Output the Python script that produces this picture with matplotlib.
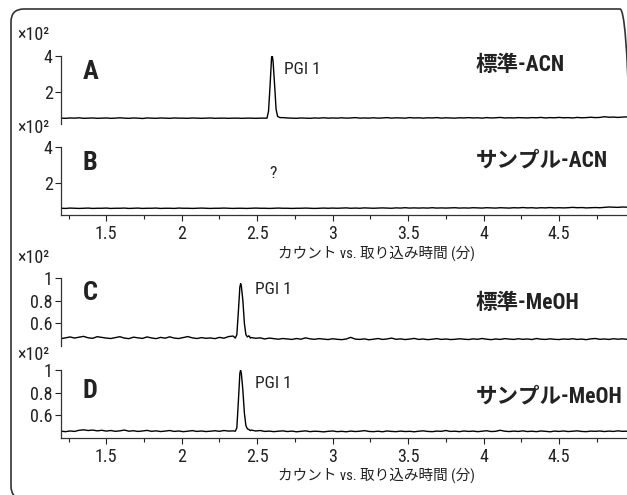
import numpy as np
import matplotlib
matplotlib.use("Agg")
import matplotlib.pyplot as plt
from matplotlib.patches import FancyBboxPatch
from matplotlib.ticker import MultipleLocator
from matplotlib import font_manager as fm

# pick a condensed latin face if one is installed
_names = sorted({f.name for f in fm.fontManager.ttflist})
_cond = [n for n in _names if ('Narrow' in n or 'Condensed' in n)]
_pref = ['Liberation Sans Narrow', 'Roboto Condensed', 'Open Sans Condensed',
         'DejaVu Sans Condensed', 'Noto Sans Condensed']
LATIN = next((p for p in _pref if p in _cond), _cond[0] if _cond else 'DejaVu Sans')
LAT = [LATIN, 'Noto Sans CJK JP', 'DejaVu Sans']
plt.rcParams['font.family'] = LAT
STRETCH = 'normal' if _cond else 'condensed'

# ---------------- data (intensity in units of x10^2 counts) ----------------
t_start, t_end = 1.20, 4.95
xticks = [1.5, 2, 2.5, 3, 3.5, 4, 4.5]
xtick_labels = ['1.5', '2', '2.5', '3', '3.5', '4', '4.5']

base_A = [0.50,0.49,0.51,0.50,0.52,0.49,0.50,0.51,0.49,0.50,
          0.51,0.49,0.50,0.52,0.50,0.49,0.51,0.50,0.48,0.51,
          0.50,0.49,0.51,0.50,0.49,0.51,0.50,0.50,0.49,0.51,
          0.50,0.49,0.50,0.51,0.49,0.50,0.50,0.49,0.50,0.50,
          0.49,0.50,0.50,0.49,0.50,0.50,0.50,0.50,0.52,0.53,
          0.51,0.50,0.49,0.51,0.50,0.49,0.51,0.50,0.52,0.50,
          0.51,0.50,0.52,0.50,0.51,0.53,0.50,0.51,0.50,0.52,
          0.50,0.51,0.53,0.50,0.52,0.51,0.50,0.53,0.51,0.52,
          0.50,0.52,0.51,0.53,0.50,0.52,0.51,0.50,0.52,0.51,
          0.53,0.51,0.52,0.50,0.53,0.51,0.52,0.54,0.51,0.52,
          0.51,0.53,0.52,0.51,0.53,0.52,0.54,0.51,0.53,0.52,
          0.54,0.52,0.53,0.51,0.54,0.52,0.53,0.55,0.53,0.54,
          0.58,0.55,0.56,0.54,0.56,0.57]
peak_A_t = [2.565, 2.575, 2.585, 2.595, 2.600, 2.605, 2.615, 2.625, 2.635, 2.650]
peak_A_y = [0.50, 0.90, 2.30, 3.90, 4.00, 3.70, 2.40, 1.00, 0.60, 0.53]

base_B = [0.55,0.54,0.56,0.55,0.54,0.55,0.56,0.54,0.55,0.55,
          0.56,0.54,0.55,0.55,0.56,0.54,0.55,0.56,0.54,0.55,
          0.55,0.56,0.54,0.55,0.55,0.54,0.56,0.55,0.55,0.54,
          0.55,0.56,0.55,0.54,0.55,0.55,0.56,0.55,0.54,0.55,
          0.55,0.54,0.55,0.56,0.55,0.55,0.54,0.55,0.56,0.55,
          0.55,0.54,0.55,0.55,0.56,0.55,0.54,0.55,0.56,0.55,
          0.56,0.55,0.56,0.57,0.55,0.56,0.55,0.57,0.56,0.55,
          0.56,0.57,0.56,0.55,0.57,0.56,0.58,0.56,0.57,0.56,
          0.57,0.56,0.58,0.56,0.57,0.56,0.57,0.58,0.56,0.57,
          0.56,0.58,0.57,0.56,0.58,0.57,0.56,0.58,0.57,0.56,
          0.58,0.57,0.59,0.57,0.58,0.56,0.58,0.57,0.59,0.57,
          0.58,0.57,0.58,0.60,0.58,0.59,0.57,0.58,0.59,0.58,
          0.60,0.62,0.61,0.60,0.62,0.61]

base_C = [0.465,0.472,0.480,0.470,0.478,0.485,0.472,0.468,0.482,0.476,
          0.470,0.466,0.474,0.482,0.470,0.465,0.478,0.472,0.467,0.480,
          0.471,0.465,0.476,0.469,0.481,0.470,0.466,0.475,0.483,0.472,
          0.466,0.474,0.468,0.471,0.465,0.476,0.469,0.483,0.488,0.470,
          0.900,0.520,0.475,0.468,0.472,0.462,0.470,0.465,0.460,0.466,
          0.462,0.458,0.466,0.460,0.472,0.463,0.459,0.465,0.461,0.457,
          0.464,0.459,0.456,0.462,0.476,0.461,0.458,0.463,0.455,0.460,
          0.466,0.458,0.462,0.470,0.459,0.463,0.457,0.461,0.467,0.458,
          0.462,0.456,0.460,0.465,0.458,0.462,0.457,0.459,0.464,0.460,
          0.457,0.463,0.459,0.466,0.460,0.456,0.462,0.458,0.465,0.461,
          0.458,0.464,0.459,0.462,0.457,0.466,0.460,0.458,0.463,0.459,
          0.457,0.462,0.459,0.464,0.458,0.461,0.456,0.463,0.466,0.459,
          0.462,0.458,0.464,0.460,0.463,0.459]
peak_C_t = [2.355, 2.365, 2.375, 2.385, 2.390, 2.395, 2.405, 2.415, 2.425, 2.435, 2.445, 2.455]
peak_C_y = [0.47, 0.50, 0.70, 0.92, 0.95, 0.93, 0.80, 0.60, 0.50, 0.48, 0.49, 0.47]

base_D = [0.460,0.456,0.462,0.458,0.468,0.472,0.466,0.470,0.463,0.468,
          0.461,0.466,0.459,0.463,0.470,0.460,0.464,0.458,0.462,0.467,
          0.459,0.463,0.457,0.461,0.466,0.458,0.462,0.456,0.460,0.465,
          0.458,0.462,0.457,0.460,0.464,0.459,0.466,0.461,0.463,0.460,
          0.950,0.500,0.470,0.462,0.466,0.458,0.461,0.456,0.460,0.463,
          0.457,0.461,0.455,0.459,0.463,0.456,0.460,0.458,0.454,0.459,
          0.462,0.456,0.459,0.455,0.461,0.457,0.460,0.465,0.458,0.456,
          0.460,0.455,0.462,0.458,0.456,0.461,0.457,0.459,0.455,0.460,
          0.463,0.458,0.456,0.461,0.459,0.466,0.458,0.460,0.456,0.462,
          0.458,0.461,0.456,0.460,0.464,0.457,0.459,0.468,0.460,0.457,
          0.461,0.458,0.463,0.457,0.460,0.456,0.462,0.459,0.455,0.461,
          0.458,0.462,0.457,0.460,0.463,0.458,0.456,0.461,0.459,0.462,
          0.457,0.461,0.458,0.463,0.459,0.460]
peak_D_t = [2.355, 2.365, 2.375, 2.385, 2.390, 2.395, 2.405, 2.415, 2.425, 2.435, 2.445, 2.455]
peak_D_y = [0.46, 0.49, 0.72, 0.97, 1.00, 0.97, 0.82, 0.62, 0.51, 0.48, 0.475, 0.465]

panel_letters = ['A', 'B', 'C', 'D']
panel_titles = ['標準-ACN', 'サンプル-ACN', '標準-MeOH', 'サンプル-MeOH']
peak_labels = ['PGI 1', '?', 'PGI 1', 'PGI 1']
ylims = [(0.17, 4.0), (0.17, 4.0), (0.4, 1.0), (0.4, 1.0)]
yticks = [[2, 4], [2, 4], [0.6, 0.8, 1.0], [0.6, 0.8, 1.0]]
ytick_labels = [['2', '4'], ['2', '4'], ['0.6', '0.8', '1'], ['0.6', '0.8', '1']]
xlabel = 'カウント vs. 取り込み時間 (分)'
scale_label = '×10²'


def trace(base, pk_t=None, pk_y=None):
    t = np.linspace(t_start, t_end, len(base))
    y = np.asarray(base, float)
    if pk_t is None:
        return t, y
    pk_t = np.asarray(pk_t, float); pk_y = np.asarray(pk_y, float)
    m = (t < pk_t.min()) | (t > pk_t.max())
    tt = np.concatenate([t[m], pk_t]); yy = np.concatenate([y[m], pk_y])
    o = np.argsort(tt)
    return tt[o], yy[o]


traces = [trace(base_A, peak_A_t, peak_A_y), trace(base_B),
          trace(base_C, peak_C_t, peak_C_y), trace(base_D, peak_D_t, peak_D_y)]

# ---------------- figure ----------------
W, H = 627, 495
fig = plt.figure(figsize=(W / 100, H / 100), dpi=100)
fig.patch.set_facecolor('white')


def fx(x):
    return x / W


def fy(y):
    return 1 - y / H


# rounded frame in pixel coordinates (right and bottom edges run off the image)
frame = FancyBboxPatch((11, H - 499), 622, 490, boxstyle='round,pad=0,rounding_size=13',
                       transform=None, fill=False, edgecolor='#333333', linewidth=1.2)
fig.patches.append(frame)

ax_left, ax_right = 61, 627
boxes = [(56, 124), (147, 215), (278, 346), (370, 438)]
scale_y = [35, 128, 258, 355]
letter_y = [72, 163, 293, 391]
peak_pos = [(284, 70), (273, 173), (255, 290), (255, 383)]
title_y = [65, 160, 303, 396]
xlabel_y = {1: 253, 3: 475}

tick_font = dict(family=LAT, size=13, stretch=STRETCH)

for i in range(4):
    top, bot = boxes[i]
    ax = fig.add_axes([fx(ax_left), fy(bot), fx(ax_right - ax_left), (bot - top) / H])
    ax.set_facecolor('none')
    t, y = traces[i]
    ax.plot(t, y, color='black', lw=1.0)
    ax.set_xlim(t_start, t_end)
    ax.set_ylim(*ylims[i])
    for s in ['top', 'right']:
        ax.spines[s].set_visible(False)
    ax.spines['left'].set_color('#333333')
    ax.spines['left'].set_linewidth(0.9)
    ax.set_yticks(yticks[i])
    ax.set_yticklabels(ytick_labels[i], fontdict=tick_font)
    ax.tick_params(axis='y', direction='out', length=4, width=0.8, pad=2, colors='#222222')
    if i in (1, 3):
        ax.spines['bottom'].set_color('#333333')
        ax.spines['bottom'].set_linewidth(0.9)
        ax.set_xticks(xticks)
        ax.set_xticklabels(xtick_labels, fontdict=tick_font)
        ax.xaxis.set_minor_locator(MultipleLocator(0.25))
        ax.tick_params(axis='x', which='major', direction='out', length=4, width=0.8, pad=3, colors='#222222')
        ax.tick_params(axis='x', which='minor', direction='out', length=3, width=0.8, colors='#222222')
        fig.text(fx(376), fy(xlabel_y[i]), xlabel, ha='center', va='center',
                 family=LAT, size=10.5, color='#222222', stretch=STRETCH)
    else:
        ax.spines['bottom'].set_visible(False)
        ax.set_xticks([])

    fig.text(fx(17), fy(scale_y[i]), scale_label, ha='left', va='center',
             family=LAT, size=13, color='#222222', stretch=STRETCH)
    fig.text(fx(83), fy(letter_y[i]), panel_letters[i], ha='left', va='center',
             family=LAT, size=19, weight='bold', color='#222222', stretch=STRETCH)
    px, py = peak_pos[i]
    fig.text(fx(px), fy(py), peak_labels[i], ha='center' if peak_labels[i] == '?' else 'left',
             va='center', family=LAT, size=12.5, color='#222222', stretch=STRETCH)
    fig.text(fx(476), fy(title_y[i]), panel_titles[i], ha='left', va='center',
             family=LAT, size=15.5, weight='bold', color='#222222', stretch=STRETCH)

fig.savefig('out.png', dpi=100)
